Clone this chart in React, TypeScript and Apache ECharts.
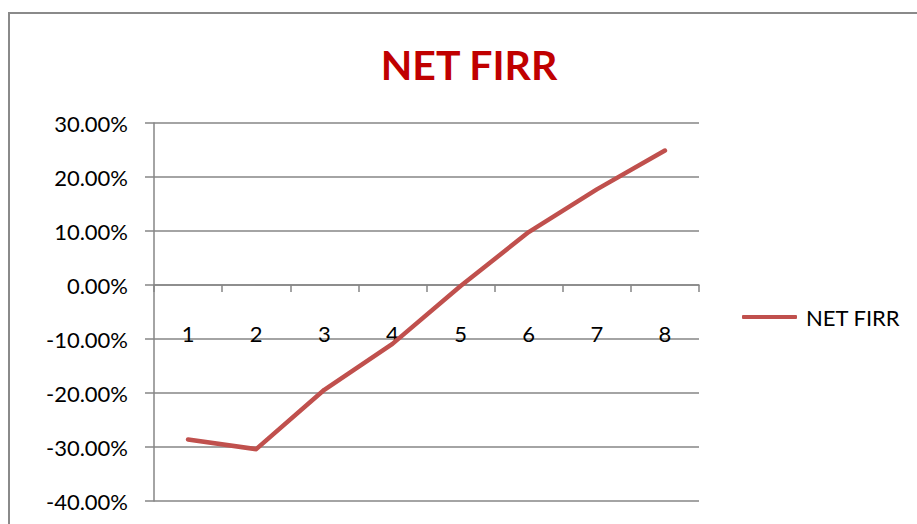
import React, { useEffect, useRef } from "react";
import * as echarts from "echarts";

const categories = ["1", "2", "3", "4", "5", "6", "7", "8"];
const netFirr = [-28.6, -30.4, -19.4, -10.9, -0.2, 9.8, 17.7, 24.9];
const seriesName = "NET FIRR";
const titleText = "NET FIRR";

export default function App() {
  const ref = useRef<HTMLDivElement>(null);
  useEffect(() => {
    if (!ref.current) return;
    const chart = echarts.init(ref.current, null, { renderer: "svg" });
    const font = "Lato, 'Open Sans', sans-serif";
    chart.setOption({
      animation: false,
      backgroundColor: "#ffffff",
      title: {
        text: titleText,
        left: 464,
        top: 39,
        textAlign: "center",
        textStyle: { color: "#C00000", fontWeight: "bold", fontSize: 41, fontFamily: font },
      },
      legend: {
        data: [seriesName],
        left: 737,
        top: 301,
        icon: "roundRect",
        itemWidth: 55,
        itemHeight: 4,
        textStyle: { color: "#000", fontSize: 22, fontFamily: font, padding: [0, 0, 0, 4] },
      },
      graphic: [
        {
          type: "rect",
          shape: { x: 9, y: 13, width: 1000, height: 1000 },
          style: { fill: "none", stroke: "#8a8a8a", lineWidth: 2 },
          silent: true,
        },
      ],
      grid: {
        left: 154,
        right: 218,
        top: 123,
        bottom: 23,
        containLabel: false,
        outerBoundsMode: "none",
      },
      xAxis: {
        type: "category",
        data: categories,
        boundaryGap: true,
        axisLine: { onZero: true, lineStyle: { color: "#868686", width: 1.5 } },
        axisTick: { show: true, length: 7, lineStyle: { color: "#868686", width: 1.5 } },
        axisLabel: { color: "#000", fontSize: 22, fontFamily: font, margin: -179 },
        splitLine: { show: false },
      },
      yAxis: {
        type: "value",
        min: -40,
        max: 30,
        interval: 10,
        axisLine: { show: true, lineStyle: { color: "#868686", width: 1.5 } },
        axisTick: { show: true, length: 9, lineStyle: { color: "#868686", width: 1.5 } },
        axisLabel: {
          color: "#000",
          fontSize: 22,
          fontFamily: font,
          margin: 26,
          formatter: (v: number) => v.toFixed(2) + "%",
        },
        splitLine: { show: true, lineStyle: { color: "#868686", width: 1.5 } },
      },
      series: [
        {
          name: seriesName,
          type: "line",
          data: netFirr,
          symbol: "none",
          color: "#C0504D",
          lineStyle: { color: "#C0504D", width: 4.5, cap: "round", join: "round" },
        },
      ],
    });
    return () => chart.dispose();
  }, []);
  return (
    <div
      ref={ref}
      style={{ position: "fixed", left: 0, top: 0, width: 917, height: 524 }}
    />
  );
}
